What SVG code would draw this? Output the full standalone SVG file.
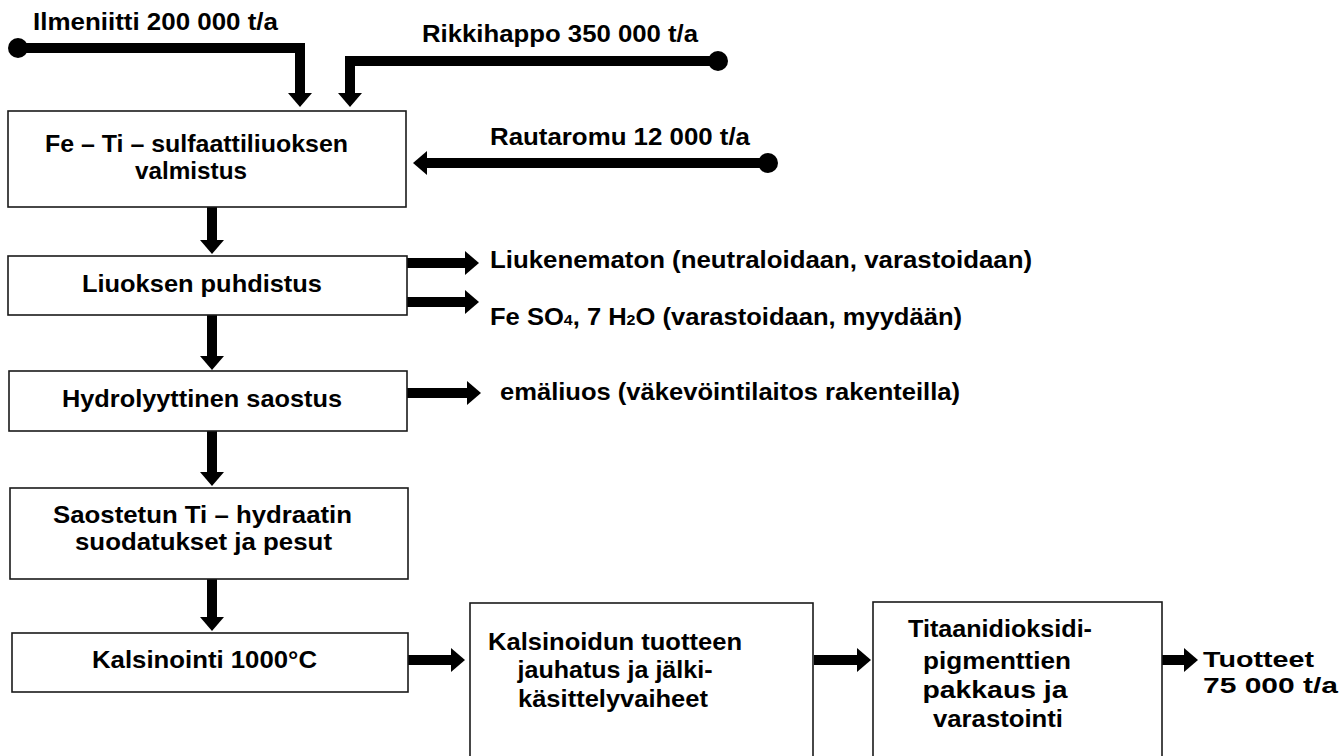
<svg xmlns="http://www.w3.org/2000/svg" width="1343" height="756" viewBox="0 0 1343 756">
<style>
  .box { fill: #fff; stroke: #1a1a1a; stroke-width: 1.6; }
  .t { font-family: "Liberation Sans", Arial, Helvetica, sans-serif; font-weight: bold; font-size: 24px; fill: #000; }
  .tc { font-family: "Liberation Sans", Arial, Helvetica, sans-serif; font-weight: bold; font-size: 24px; fill: #000; }
  .tp { font-family: "Liberation Sans", Arial, Helvetica, sans-serif; font-weight: bold; font-size: 22px; fill: #000; }
  .c { text-anchor: middle; }
  .shaft { fill: none; stroke: #000; stroke-width: 10; stroke-linejoin: miter; marker-end: url(#ah); }
  .dot { fill: #000; }
  .sub { font-size: 15px; }
</style>
<defs>
  <marker id="ah" markerUnits="userSpaceOnUse" markerWidth="16" markerHeight="26" refX="0" refY="12" orient="auto" viewBox="0 0 16 24" overflow="visible">
    <path d="M0,0 L14,12 L0,24 Z" fill="#000"/>
  </marker>
</defs>
<rect width="1343" height="756" fill="#fff"/>

<g id="connectors">
  <!-- Ilmeniitti -->
  <circle class="dot" cx="18" cy="48" r="10"/>
  <path class="shaft" d="M18,48 H300 V93"/>
  <!-- Rikkihappo -->
  <circle class="dot" cx="718" cy="61" r="10"/>
  <path class="shaft" d="M718,61 H350 V93"/>
  <!-- Rautaromu -->
  <circle class="dot" cx="768" cy="163" r="10"/>
  <path class="shaft" d="M768,163 H427"/>
  <!-- vertical flow -->
  <path class="shaft" d="M212,207 V240"/>
  <path class="shaft" d="M212,315 V356"/>
  <path class="shaft" d="M212,431 V472"/>
  <path class="shaft" d="M212,579 V617"/>
  <!-- side outputs -->
  <path class="shaft" d="M407,263 H465"/>
  <path class="shaft" d="M407,302 H465"/>
  <path class="shaft" d="M407,393 H467"/>
  <!-- bottom row -->
  <path class="shaft" d="M408,660 H451"/>
  <path class="shaft" d="M814,660 H857"/>
  <path class="shaft" d="M1162,660 H1184"/>
</g>

<g id="labels">
  <text class="t" x="33" y="30" textLength="245" lengthAdjust="spacingAndGlyphs">Ilmeniitti 200 000 t/a</text>
  <text class="t" x="422" y="42" textLength="276" lengthAdjust="spacingAndGlyphs">Rikkihappo 350 000 t/a</text>
  <text class="t" x="490" y="145" textLength="260" lengthAdjust="spacingAndGlyphs">Rautaromu 12 000 t/a</text>
  <text class="t" x="490" y="268" textLength="542" lengthAdjust="spacingAndGlyphs">Liukenematon (neutraloidaan, varastoidaan)</text>
  <text class="t" x="490" y="325" textLength="472" lengthAdjust="spacingAndGlyphs">Fe SO<tspan class="sub">4</tspan>, 7 H<tspan class="sub">2</tspan>O (varastoidaan, myydään)</text>
  <text class="t" x="500" y="400" textLength="460" lengthAdjust="spacingAndGlyphs">emäliuos (väkevöintilaitos rakenteilla)</text>
  <text class="tp" x="1203" y="667" textLength="111" lengthAdjust="spacingAndGlyphs">Tuotteet</text>
  <text class="tp" x="1203" y="693" textLength="135" lengthAdjust="spacingAndGlyphs">75 000 t/a</text>
</g>

<g id="n1">
  <rect class="box" x="8" y="111" width="398" height="96"/>
  <text class="t" x="45" y="152" textLength="303" lengthAdjust="spacingAndGlyphs">Fe – Ti – sulfaattiliuoksen</text>
  <text class="t" x="135" y="179" textLength="112" lengthAdjust="spacingAndGlyphs">valmistus</text>
</g>
<g id="n2">
  <rect class="box" x="8" y="256" width="399" height="59"/>
  <text class="t" x="82" y="292" textLength="240" lengthAdjust="spacingAndGlyphs">Liuoksen puhdistus</text>
</g>
<g id="n3">
  <rect class="box" x="9" y="371" width="398" height="60"/>
  <text class="t" x="62" y="407" textLength="280" lengthAdjust="spacingAndGlyphs">Hydrolyyttinen saostus</text>
</g>
<g id="n4">
  <rect class="box" x="10" y="488" width="398" height="91"/>
  <text class="t" x="53" y="523" textLength="299" lengthAdjust="spacingAndGlyphs">Saostetun Ti – hydraatin</text>
  <text class="t" x="75" y="550" textLength="257" lengthAdjust="spacingAndGlyphs">suodatukset ja pesut</text>
</g>
<g id="n5">
  <rect class="box" x="12" y="633" width="396" height="59"/>
  <text class="t" x="92" y="668" textLength="225" lengthAdjust="spacingAndGlyphs">Kalsinointi 1000°C</text>
</g>
<g id="n6">
  <rect class="box" x="470" y="603" width="343" height="160"/>
  <text class="tc c" x="615" y="650" textLength="254" lengthAdjust="spacingAndGlyphs">Kalsinoidun tuotteen</text>
  <text class="tc c" x="615" y="678" textLength="195" lengthAdjust="spacingAndGlyphs">jauhatus ja jälki-</text>
  <text class="tc c" x="613" y="707" textLength="190" lengthAdjust="spacingAndGlyphs">käsittelyvaiheet</text>
</g>
<g id="n7">
  <rect class="box" x="873" y="602" width="289" height="160"/>
  <text class="tc c" x="1000" y="637" textLength="184" lengthAdjust="spacingAndGlyphs">Titaanidioksidi-</text>
  <text class="tc c" x="997" y="669" textLength="148" lengthAdjust="spacingAndGlyphs">pigmenttien</text>
  <text class="tc c" x="995" y="698" textLength="145" lengthAdjust="spacingAndGlyphs">pakkaus ja</text>
  <text class="tc c" x="998" y="727" textLength="130" lengthAdjust="spacingAndGlyphs">varastointi</text>
</g>
</svg>
